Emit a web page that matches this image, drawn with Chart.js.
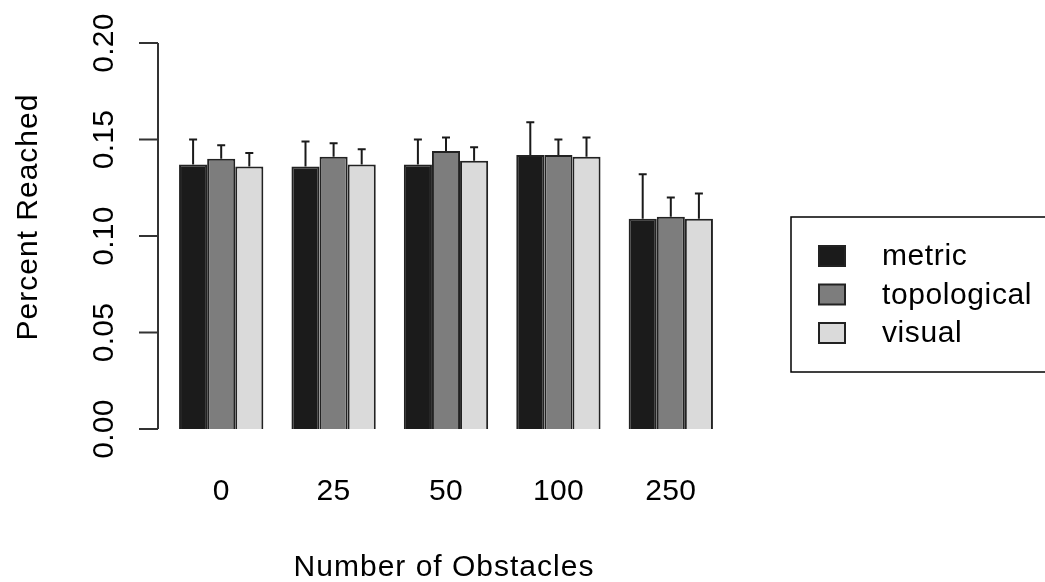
<!DOCTYPE html>
<html>
<head>
<meta charset="utf-8">
<script src="https://cdn.jsdelivr.net/npm/chart.js@4.4.1/dist/chart.umd.min.js"></script>
<style>
  html, body { margin: 0; padding: 0; background: #fff; }
  canvas { display: block; }
</style>
</head>
<body>
<canvas id="chart" width="1045" height="582"></canvas>
<script>
// values
const categories = ["0", "25", "50", "100", "250"];
const seriesNames = ["metric", "topological", "visual"];
const metric = [0.137, 0.136, 0.137, 0.142, 0.109];
const topological = [0.140, 0.141, 0.144, 0.142, 0.110];
const visual = [0.136, 0.137, 0.139, 0.141, 0.109];
// top of the error bars
const metricUpper = [0.150, 0.149, 0.150, 0.159, 0.132];
const topologicalUpper = [0.147, 0.148, 0.151, 0.150, 0.120];
const visualUpper = [0.143, 0.145, 0.146, 0.151, 0.122];
const yTicks = [0, 0.05, 0.10, 0.15, 0.20];
const yTickLabels = ["0.00", "0.05", "0.10", "0.15", "0.20"];

const fills = ["#1b1b1b", "#7d7d7d", "#dadada"];
const FONT = "30px 'Liberation Sans', Arial, sans-serif";
const upper = [metricUpper, topologicalUpper, visualUpper];

// R style axes, error bars and legend, drawn on top of the bars
const rStylePlugin = {
  id: "rStyle",
  afterDatasetsDraw: (chart) => {
    const { ctx, scales } = chart;
    const x = scales.x;
    const y = scales.y;
    ctx.save();
    ctx.strokeStyle = "#1a1a1a";
    ctx.fillStyle = "#000";
    ctx.lineWidth = 2;

    // error bars (upper only)
    chart.data.datasets.forEach((ds, i) => {
      const meta = chart.getDatasetMeta(i);
      meta.data.forEach((bar, j) => {
        const top = y.getPixelForValue(upper[i][j]);
        ctx.beginPath();
        ctx.moveTo(bar.x, bar.y);
        ctx.lineTo(bar.x, top);
        ctx.moveTo(bar.x - 4, top);
        ctx.lineTo(bar.x + 4, top);
        ctx.stroke();
      });
    });

    // y axis
    const axisX = 158;
    ctx.strokeStyle = "#333";
    ctx.beginPath();
    ctx.moveTo(axisX, y.getPixelForValue(yTicks[0]));
    ctx.lineTo(axisX, y.getPixelForValue(yTicks[yTicks.length - 1]));
    yTicks.forEach((v) => {
      const py = y.getPixelForValue(v);
      ctx.moveTo(axisX, py);
      ctx.lineTo(axisX - 19, py);
    });
    ctx.stroke();

    ctx.font = FONT;
    ctx.letterSpacing = "0.3px";
    ctx.textAlign = "center";
    ctx.textBaseline = "alphabetic";
    yTicks.forEach((v, k) => {
      const py = y.getPixelForValue(v);
      ctx.save();
      ctx.translate(113, py);
      ctx.rotate(-Math.PI / 2);
      ctx.fillText(yTickLabels[k], 0, 0);
      ctx.restore();
    });

    // x labels
    categories.forEach((c, j) => {
      ctx.fillText(c, x.getPixelForValue(j), 500);
    });

    // titles
    ctx.letterSpacing = "1px";
    ctx.save();
    ctx.translate(37, 217);
    ctx.rotate(-Math.PI / 2);
    ctx.fillText("Percent Reached", 0, 0);
    ctx.restore();
    ctx.fillText("Number of Obstacles", 444, 576);

    // legend box
    ctx.strokeStyle = "#000";
    ctx.lineWidth = 1.5;
    ctx.strokeRect(791, 217, 270, 155);
    ctx.textAlign = "left";
    ctx.textBaseline = "middle";
    ctx.letterSpacing = "0.6px";
    ctx.lineWidth = 2;
    seriesNames.forEach((name, i) => {
      const cy = 256 + i * 38.5;
      ctx.fillStyle = fills[i];
      ctx.fillRect(819, cy - 10, 26, 20);
      ctx.strokeStyle = "#222";
      ctx.strokeRect(819, cy - 10, 26, 20);
      ctx.fillStyle = "#000";
      ctx.fillText(name, 882, cy + 1);
    });
    ctx.restore();
  },
};

const ctx = document.getElementById("chart").getContext("2d");
new Chart(ctx, {
  type: "bar",
  data: {
    labels: categories,
    datasets: [
      { label: seriesNames[0], data: metric, backgroundColor: fills[0] },
      { label: seriesNames[1], data: topological, backgroundColor: fills[1] },
      { label: seriesNames[2], data: visual, backgroundColor: fills[2] },
    ],
  },
  options: {
    responsive: false,
    animation: false,
    layout: { padding: { left: 165, right: 318, top: 43, bottom: 153 } },
    datasets: {
      bar: {
        barPercentage: 1,
        categoryPercentage: 0.75,
        borderColor: "#222",
        borderWidth: 2,
      },
    },
    scales: {
      x: { display: false },
      y: { display: false, min: 0, max: 0.2 },
    },
    plugins: {
      legend: { display: false },
      tooltip: { enabled: false },
    },
  },
  plugins: [rStylePlugin],
});
</script>
</body>
</html>
